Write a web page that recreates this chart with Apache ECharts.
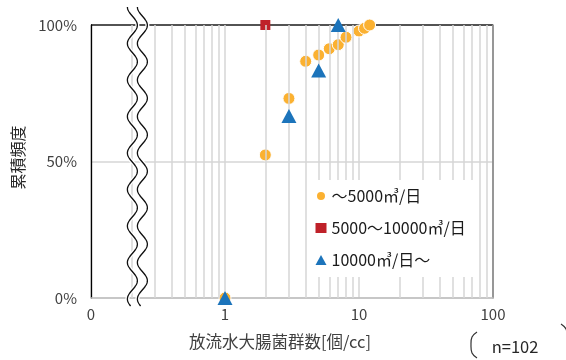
<!DOCTYPE html>
<html>
<head>
<meta charset="utf-8">
<script src="https://cdn.jsdelivr.net/npm/echarts@6/dist/echarts.min.js"></script>
<style>
  html, body { margin: 0; padding: 0; background: #fff; }
  #chart { width: 566px; height: 360px; }
</style>
</head>
<body>
<div id="chart"></div>
<script>
const FONT = '"Noto Sans CJK JP", "Noto Sans", sans-serif';

// Legend names for the three plant-size classes
const seriesNames = ['～5000㎥/日', '5000～10000㎥/日', '10000㎥/日～'];

// Coliform count [個/cc] and cumulative frequency [%] per class
const smallCounts = [1, 2, 3, 4, 5, 6, 7, 8, 10, 11, 12];
const smallCum    = [0, 52.4, 73.1, 86.7, 89.0, 91.3, 92.8, 95.5, 97.8, 98.8, 100];
const midCounts   = [2];
const midCum      = [100];
const largeCounts = [1, 3, 5, 7];
const largeCum    = [0, 66.7, 83.3, 100];

// Axis ticks (0.1 is the broken-axis origin, labelled "0")
const xTicks = [0.1, 1, 10, 100];
const yTicks = [0, 50, 100];
// Intermediate log grid lines
const minorGrid = [0.2, 0.3, 0.4, 0.5, 0.6, 0.7, 0.8, 0.9,
                   2, 3, 4, 5, 6, 7, 8, 9,
                   20, 30, 40, 50, 60, 70, 80, 90];

const colors = ['#FBB131', '#BF2129', '#1C74BB'];
const zip = (xs, ys) => xs.map((x, i) => [x, ys[i]]);

const chart = echarts.init(document.getElementById('chart'), null, { renderer: 'canvas' });

const labelStyle = { color: '#404040', fontSize: 15, fontFamily: FONT };

chart.setOption({
  animation: false,
  backgroundColor: '#fff',
  grid: { left: 91, right: 73, top: 25, bottom: 62, containLabel: false },
  xAxis: {
    type: 'log', logBase: 10, min: xTicks[0], max: xTicks[xTicks.length - 1],
    axisLine: { show: true, lineStyle: { color: '#bfbfbf', width: 1.5 } },
    axisTick: { show: false },
    splitLine: { show: true, lineStyle: { color: '#d6d6d6', width: 1.5 } },
    axisLabel: Object.assign({ margin: 9, formatter: v => (v < 1 ? '0' : String(Math.round(v))) }, labelStyle)
  },
  yAxis: [{
    type: 'value', min: yTicks[0], max: yTicks[yTicks.length - 1], interval: 50,
    axisLine: { show: true, lineStyle: { color: '#000', width: 1.3 } },
    axisTick: { show: false },
    splitLine: { show: true, lineStyle: { color: ['#d6d6d6', '#d6d6d6', '#1a1a1a'], width: 1.5 } },
    axisLabel: Object.assign({ margin: 14, formatter: '{value}%' }, labelStyle)
  }, {
    type: 'value', position: 'right', min: 0, max: 100,
    axisLine: { show: true, lineStyle: { color: '#7f7f7f', width: 1.5 } },
    axisTick: { show: false }, axisLabel: { show: false }, splitLine: { show: false }
  }],
  legend: {
    orient: 'vertical', left: 307, top: 180, z: 20,
    backgroundColor: '#fff', padding: [8, 11, 9, 8],
    itemGap: 16, itemWidth: 11, itemHeight: 10,
    textStyle: { color: '#1a1a1a', fontSize: 16, fontFamily: FONT },
    data: [
      { name: seriesNames[0], icon: 'circle' },
      { name: seriesNames[1], icon: 'rect' },
      { name: seriesNames[2], icon: 'triangle' }
    ]
  },
  series: [
    {
      type: 'scatter', name: '_grid', data: [], z: 1, silent: true,
      markLine: {
        silent: true, symbol: 'none', label: { show: false },
        lineStyle: { color: '#d6d6d6', width: 1.5, type: 'solid' },
        data: minorGrid.map(v => ({ xAxis: v }))
      }
    },
    {
      type: 'scatter', name: seriesNames[0], z: 3,
      symbol: 'circle', symbolSize: 12,
      itemStyle: { color: colors[0], borderColor: '#fff', borderWidth: 1, opacity: 1 },
      data: zip(smallCounts, smallCum)
    },
    {
      type: 'scatter', name: seriesNames[1], z: 4,
      symbol: 'rect', symbolSize: 10,
      itemStyle: { color: colors[1], opacity: 1 },
      data: zip(midCounts, midCum)
    },
    {
      type: 'scatter', name: seriesNames[2], z: 5,
      symbol: 'triangle', symbolSize: [15, 14],
      itemStyle: { color: colors[2], opacity: 1 },
      data: zip(largeCounts, largeCum)
    }
  ]
});

// Axis break marker (double wavy line) and annotation texts
const gridTop = chart.convertToPixel({ yAxisIndex: 0 }, 100);
const gridBottom = chart.convertToPixel({ yAxisIndex: 0 }, 0);
const breakX = chart.convertToPixel({ xAxisIndex: 0 }, 0.22);

function wave(cx, y0, y1) {
  const pts = [];
  for (let y = y0; y <= y1; y += 1) {
    pts.push([cx - 5 * Math.cos(2 * Math.PI * (y - y0) / 36.5), y]);
  }
  return pts;
}
const wTop = gridTop - 18, wBot = gridBottom + 8;
const waves = [wave(breakX - 4.5, wTop, wBot), wave(breakX + 5.5, wTop, wBot)];

const graphic = [];
waves.forEach(pts => {
  graphic.push({ type: 'polyline', z: 100, shape: { points: pts },
    style: { stroke: '#fff', lineWidth: 4, fill: null } });
});
waves.forEach(pts => {
  graphic.push({ type: 'polyline', z: 101, shape: { points: pts },
    style: { stroke: '#111', lineWidth: 1.3, fill: null } });
});

// y axis title
graphic.push({
  type: 'text', z: 50, x: 18, y: (gridTop + gridBottom) / 2 - 4, rotation: Math.PI / 2,
  style: { text: '累積頻度', fill: '#262626', fontSize: 16, fontFamily: FONT,
           align: 'center', verticalAlign: 'middle' }
});
// x axis title
graphic.push({
  type: 'text', z: 50, x: 280, y: 342,
  style: { text: '放流水大腸菌群数[個/cc]', fill: '#404040', fontSize: 16.5, fontFamily: FONT,
           align: 'center', verticalAlign: 'middle' }
});
// sample size note in brackets
graphic.push({
  type: 'text', z: 50, x: 515, y: 347,
  style: { text: 'n=102', fill: '#262626', fontSize: 16.5, fontFamily: FONT,
           align: 'center', verticalAlign: 'middle' }
});
graphic.push({
  type: 'polyline', z: 50,
  shape: { points: [[477, 332], [472, 337], [471, 345], [472, 353], [477, 358]], smooth: 0.4 },
  style: { stroke: '#333', lineWidth: 1.2, fill: null }
});
graphic.push({
  type: 'polyline', z: 50,
  shape: { points: [[561, 324], [566, 329], [567, 336]], smooth: 0.4 },
  style: { stroke: '#333', lineWidth: 1.2, fill: null }
});

chart.setOption({ graphic: graphic });
</script>
</body>
</html>
